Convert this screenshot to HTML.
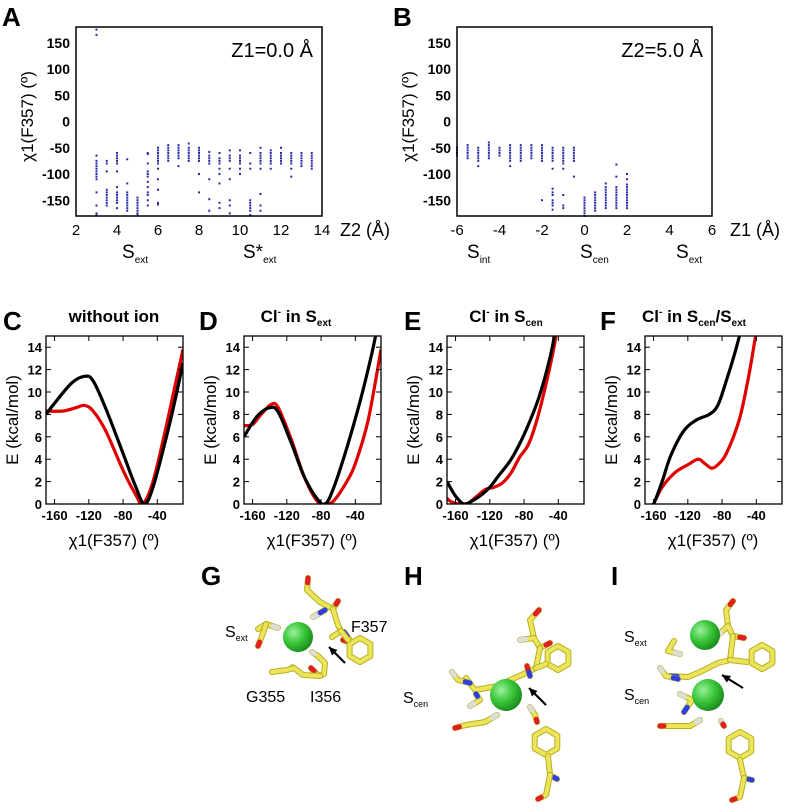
<!DOCTYPE html>
<html><head><meta charset="utf-8"><style>
html,body{margin:0;padding:0;background:#fff;}
svg{display:block;font-family:"Liberation Sans",Arial,sans-serif;}
</style></head><body>
<svg id="fig" width="785" height="812" viewBox="0 0 785 812" xmlns="http://www.w3.org/2000/svg">
<defs>
<radialGradient id="cl" cx="35%" cy="35%" r="70%"><stop offset="0" stop-color="#9ef09e"/><stop offset="0.5" stop-color="#3cc83c"/><stop offset="1" stop-color="#1a8a1a"/></radialGradient>
</defs>
<g font-weight="bold" font-size="26">
<text x="2" y="26">A</text>
<text x="393" y="26">B</text>
<text x="3" y="330">C</text>
<text x="199" y="330">D</text>
<text x="404" y="330">E</text>
<text x="600" y="330">F</text>
<text x="201" y="585">G</text>
<text x="404" y="585">H</text>
<text x="611" y="585">I</text>
</g>
<g font-weight="bold" font-size="17" text-anchor="middle">
<text x="114" y="322">without ion</text>
<text x="296" y="322">Cl<tspan font-size="10" dy="-7">-</tspan><tspan dy="7"> in S</tspan><tspan font-size="10" dy="4">ext</tspan></text>
<text x="506" y="322">Cl<tspan font-size="10" dy="-7">-</tspan><tspan dy="7"> in S</tspan><tspan font-size="10" dy="4">cen</tspan></text>
<text x="694" y="322">Cl<tspan font-size="10" dy="-7">-</tspan><tspan dy="7"> in S</tspan><tspan font-size="10" dy="4">cen</tspan><tspan dy="-4">/S</tspan><tspan font-size="10" dy="4">ext</tspan></text>
</g>
<g id="plots"></g>
<g id="mol"></g>
</svg>
<script>
// ---------- Panel A data ----------
const zA = [3,3.5,4,4.5,5,5.5,6,6.5,7,7.5,8,8.5,9,9.5,10,10.5,11,11.5,12,12.5,13,13.5];
const chiA = [
 [175,165,-65,-75,-80,-85,-90,-95,-100,-105,-110,-135,-160,-175,-178],
 [-75,-80,-95,-130,-135,-140,-145,-150,-155,-160],
 [-60,-65,-70,-75,-80,-95,-125,-135,-140,-145,-150,-155,-165],
 [-72,-118,-135,-140,-145,-150,-155,-160,-165,-170],
 [-145,-150,-155,-160,-165,-170,-175,-178],
 [-60,-62,-80,-95,-100,-105,-115,-125,-135,-140,-150,-160],
 [-50,-55,-60,-65,-70,-75,-80,-90,-110,-130,-155,-158],
 [-45,-50,-55,-60,-65,-70,-75],
 [-45,-50,-55,-60,-65,-70,-85],
 [-42,-50,-55,-60,-65,-70,-75],
 [-50,-55,-60,-65,-70,-75,-100,-135],
 [-58,-65,-70,-75,-80,-110,-148,-170],
 [-60,-70,-75,-80,-90,-100,-118,-155,-165],
 [-55,-65,-70,-75,-90,-110,-150,-160,-175],
 [-55,-65,-70,-75,-80,-90,-100],
 [-60,-80,-90,-150,-155,-160,-165,-170,-178],
 [-50,-60,-65,-70,-75,-80,-90,-138,-160,-170],
 [-55,-60,-65,-70,-75,-80,-90],
 [-50,-60,-65,-70,-75,-80],
 [-60,-65,-70,-75,-80,-90,-105],
 [-60,-65,-70,-75,-80,-85],
 [-60,-65,-70,-75,-80,-85,-90]
];
// ---------- Panel B data ----------
const zB = [-6,-5.5,-5,-4.5,-4,-3.5,-3,-2.5,-2,-1.5,-1,-0.5,0,0.5,1,1.5,2];
const chiB = [
 [-50,-55,-60,-65],
 [-45,-50,-55,-60,-65,-70],
 [-50,-55,-60,-65,-70,-75,-85],
 [-40,-45,-50,-55,-60,-65,-70],
 [-50,-55,-60,-65],
 [-45,-50,-55,-60,-65,-70,-75,-85],
 [-45,-50,-55,-60,-65,-70,-75],
 [-45,-50,-55,-60,-65,-70],
 [-45,-50,-55,-60,-65,-70,-75,-150],
 [-50,-55,-60,-65,-70,-75,-90,-128,-135,-140,-150,-155,-160,-168],
 [-50,-55,-60,-65,-70,-75,-80,-90,-140,-160,-165],
 [-50,-55,-60,-65,-70,-75,-105],
 [-145,-150,-155,-160,-165,-170,-175,-180],
 [-135,-140,-145,-150,-155,-160,-165,-170],
 [-118,-125,-130,-135,-140,-145,-150,-155,-160,-165],
 [-82,-105,-125,-130,-135,-140,-145,-150,-155,-160,-165],
 [-100,-110,-120,-125,-130,-135,-140,-145,-150,-155,-160,-165]
];
const ticksYAB = [150,100,50,0,-50,-100,-150];
const ticksXA = [2,4,6,8,10,12,14];
const ticksXB = [-6,-4,-2,0,2,4,6];
// ---------- Energy profiles ----------
const angC = [-170,-160,-140,-125,-115,-100,-80,-65,-55,-45,-30,-20,-10];
const blkC = [8,9,10.8,11.4,11,8.5,4.5,1.5,0,1.5,5.8,9,12.6];
const angCr = [-170,-150,-135,-125,-115,-100,-80,-65,-57,-45,-30,-20,-10];
const redC = [8.3,8.3,8.6,8.8,8.3,6.5,3,0.8,0,2,6.8,10.3,13.8];
const angD = [-170,-155,-140,-130,-115,-100,-85,-75,-65,-50,-35,-22,-15];
const blkD = [6,7.8,8.6,8.2,5.5,2.5,0.5,0,1.5,5,9,13,15.5];
const angDr = [-170,-160,-150,-138,-130,-115,-100,-85,-75,-65,-50,-40,-25,-10];
const redD = [7,7.1,8,8.9,8.6,5.8,2.5,0.3,0,0.3,2,3.6,7.5,13.8];
const angE = [-170,-160,-150,-140,-130,-120,-110,-95,-80,-65,-55,-47,-44];
const blkE = [2,0.7,0,0.3,0.8,1.5,2.5,4,6.2,9,11.5,14,15.5];
const angEr = [-170,-165,-155,-145,-135,-125,-115,-105,-95,-85,-75,-65,-55,-45,-42];
const redE = [0.5,0.2,0,0.1,0.7,1.3,1.5,1.9,2.8,4.2,5.3,7.5,10.5,14,15.5];
const angF = [-165,-160,-150,-140,-125,-110,-95,-85,-75,-65,-58];
const blkF = [-0.5,0,2,4.3,6.5,7.5,8,8.8,11,13.5,15.5];
const angFr = [-160,-150,-135,-120,-108,-100,-92,-85,-75,-60,-50,-43,-40];
const redF = [0,1.5,2.8,3.5,4,3.6,3.2,3.5,4.5,7.5,11,14,15.5];
const ticksXE = [-160,-120,-80,-40];
const ticksYE = [0,2,4,6,8,10,12,14];

const NS = "http://www.w3.org/2000/svg";
const plots = document.getElementById('plots');
const defs = document.querySelector('defs');
function el(tag, attrs, parent){
  const e = document.createElementNS(NS, tag);
  for (const k in attrs) e.setAttribute(k, attrs[k]);
  (parent||plots).appendChild(e);
  return e;
}
function txt(x,y,s,attrs,parent){ const t = el('text', Object.assign({x:x,y:y}, attrs), parent); t.textContent = s; return t; }

function scatter(name, L, R, T, B, xmin, xmax, zs, chis, xticks, xlab, ann, subs){
  const g = el('g', {});
  
  
  const sx = v => L + (v - xmin) / (xmax - xmin) * (R - L);
  const sy = v => T + (180 - v) / 360 * (B - T);
  zs.forEach((z, i) => {
    chis[i].forEach(c => {
      const p = el('rect', {x: sx(z) - 1, y: sy(c) - 1, width: 2, height: 2, fill: '#2a2aa8'}, g);
      
      
    });
  });
  const fr = el('rect', {x: L, y: T, width: R - L, height: B - T, fill: 'none', stroke: '#000', 'stroke-width': 1.5}, g);
  
  
  ticksYAB.forEach(v => {
    const t = txt(L - 6, sy(v) + 5, String(v), {'font-size': 14, 'font-weight': 'bold', 'text-anchor': 'end'}, g);
    
    
  });
  xticks.forEach(v => {
    const t = txt(sx(v), B + 19, String(v), {'font-size': 15, 'text-anchor': 'middle'}, g);
    
    
  });
  const xl = txt(R + 18, B + 20, xlab, {'font-size': 18}, g);
  
  
  const yl = txt(0, 0, 'χ1(F357) (º)', {'font-size': 17, 'text-anchor': 'middle', transform: 'translate(' + (L - 43) + ',' + ((T + B) / 2 - 5) + ') rotate(-90)'}, g);
  
  
  const an = txt(R - 9, T + 30, ann, {'font-size': 20, 'text-anchor': 'end'}, g);
  
  
  subs.forEach(s => {
    const t = el('text', {x: s[0], y: B + 42, 'font-size': 19}, g);
    t.innerHTML = s[1] + '<tspan font-size="10" dy="5">' + s[2] + '</tspan>';
    
    
  });
}
scatter('scatter-panel-a', 76, 322, 27, 216, 2, 14, zA, chiA, ticksXA, 'Z2 (Å)', 'Z1=0.0 Å',
  [[122, 'S', 'ext'], [243, 'S*', 'ext']]);
scatter('scatter-panel-b', 457, 712, 27, 216, -6, 6, zB, chiB, ticksXB, 'Z1 (Å)', 'Z2=5.0 Å',
  [[467, 'S', 'int'], [580, 'S', 'cen'], [676, 'S', 'ext']]);

function smoothPath(pts){
  let d = 'M' + pts[0][0].toFixed(1) + ',' + pts[0][1].toFixed(1);
  for (let i = 0; i < pts.length - 1; i++){
    const p0 = pts[Math.max(0, i - 1)], p1 = pts[i], p2 = pts[i + 1], p3 = pts[Math.min(pts.length - 1, i + 2)];
    const c1 = [p1[0] + (p2[0] - p0[0]) / 6, p1[1] + (p2[1] - p0[1]) / 6];
    const c2 = [p2[0] - (p3[0] - p1[0]) / 6, p2[1] - (p3[1] - p1[1]) / 6];
    d += 'C' + c1[0].toFixed(1) + ',' + c1[1].toFixed(1) + ' ' + c2[0].toFixed(1) + ',' + c2[1].toFixed(1) + ' ' + p2[0].toFixed(1) + ',' + p2[1].toFixed(1);
  }
  return d;
}
function energy(name, L, series){
  const R = L + 137, T = 336, B = 504, xmin = -170, xmax = -10;
  const sx = v => L + (v - xmin) / (xmax - xmin) * (R - L);
  const sy = v => B - v / 15 * (B - T);
  const g = el('g', {});
  
  
  const cid = 'clip-' + name;
  const cp = el('clipPath', {id: cid}, defs);
  el('rect', {x: L, y: T, width: R - L, height: B - T}, cp);
  series.forEach(s => {
    const pts = s[0].map((a, i) => [sx(a), sy(s[1][i])]);
    const p = el('path', {d: smoothPath(pts), fill: 'none', stroke: s[2], 'stroke-width': 3.2, 'clip-path': 'url(#' + cid + ')', 'stroke-linejoin': 'round'}, g);
    
    
  });
  const fr = el('rect', {x: L, y: T, width: R - L, height: B - T, fill: 'none', stroke: '#000', 'stroke-width': 1.3}, g);
  
  
  ticksXE.forEach(v => {
    el('line', {x1: sx(v), x2: sx(v), y1: B, y2: B - 5, stroke: '#000', 'stroke-width': 1}, g);
    el('line', {x1: sx(v), x2: sx(v), y1: T, y2: T + 5, stroke: '#000', 'stroke-width': 1}, g);
    const t = txt(sx(v), B + 16, String(v), {'font-size': 13, 'font-weight': 'bold', 'text-anchor': 'middle'}, g);
    
    
  });
  ticksYE.forEach(v => {
    el('line', {x1: L, x2: L + 5, y1: sy(v), y2: sy(v), stroke: '#000', 'stroke-width': 1}, g);
    el('line', {x1: R, x2: R - 5, y1: sy(v), y2: sy(v), stroke: '#000', 'stroke-width': 1}, g);
    const t = txt(L - 4, sy(v) + 5, String(v), {'font-size': 13, 'font-weight': 'bold', 'text-anchor': 'end'}, g);
    
    
  });
  const xl = txt(L + 68, B + 42, 'χ1(F357) (º)', {'font-size': 17, 'text-anchor': 'middle'}, g);
  
  
  const yl = txt(0, 0, 'E (kcal/mol)', {'font-size': 17, 'text-anchor': 'middle', transform: 'translate(' + (L - 28) + ',' + ((T + B) / 2) + ') rotate(-90)'}, g);
  
  
}
energy('energy-panel-c', 46, [[angCr, redC, '#e00000', 'red-curve'], [angC, blkC, '#000', 'black-curve']]);
energy('energy-panel-d', 244, [[angDr, redD, '#e00000', 'red-curve'], [angD, blkD, '#000', 'black-curve']]);
energy('energy-panel-e', 447, [[angEr, redE, '#e00000', 'red-curve'], [angE, blkE, '#000', 'black-curve']]);
energy('energy-panel-f', 645, [[angFr, redF, '#e00000', 'red-curve'], [angF, blkF, '#000', 'black-curve']]);

const mol = document.getElementById('mol');
function stick(pts, g, endA, endB){
  const d = 'M' + pts.map(p => p.join(',')).join('L');
  el('path', {d: d, fill: 'none', stroke: '#b8b020', 'stroke-width': 6, 'stroke-linecap': 'round', 'stroke-linejoin': 'round'}, g);
  el('path', {d: d, fill: 'none', stroke: '#ece45a', 'stroke-width': 4, 'stroke-linecap': 'round', 'stroke-linejoin': 'round'}, g);
  if (endA){ const a = pts[0], b = pts[1]; el('line', {x1: a[0], y1: a[1], x2: a[0] + (b[0] - a[0]) * 0.4, y2: a[1] + (b[1] - a[1]) * 0.4, stroke: endA, 'stroke-width': 5, 'stroke-linecap': 'round'}, g); }
  if (endB){ const a = pts[pts.length - 1], b = pts[pts.length - 2]; el('line', {x1: a[0], y1: a[1], x2: a[0] + (b[0] - a[0]) * 0.4, y2: a[1] + (b[1] - a[1]) * 0.4, stroke: endB, 'stroke-width': 5, 'stroke-linecap': 'round'}, g); }
}
function ring(cx, cy, r, g){
  const pts = [];
  for (let k = 0; k <= 6; k++){ const a = Math.PI / 6 + k * Math.PI / 3; pts.push([(cx + r * Math.cos(a)).toFixed(1), (cy + r * Math.sin(a)).toFixed(1)]); }
  stick(pts, g);
}
function ball(cx, cy, r, g, name){
  const c = el('circle', {cx: cx, cy: cy, r: r, fill: 'url(#cl)'}, g);
  
  
}
function arrow(x1, y1, x2, y2, g){
  el('line', {x1: x1, y1: y1, x2: x2, y2: y2, stroke: '#000', 'stroke-width': 2.2}, g);
  const a = Math.atan2(y2 - y1, x2 - x1), s = 9;
  el('polygon', {points: [x2, y2, x2 - s * Math.cos(a - 0.45), y2 - s * Math.sin(a - 0.45), x2 - s * Math.cos(a + 0.45), y2 - s * Math.sin(a + 0.45)].join(','), fill: '#000'}, g);
}
function label(x, y, s, sub, g, name){
  const t = el('text', {x: x, y: y, 'font-size': 16}, g);
  t.innerHTML = s + (sub ? '<tspan font-size="9" dy="4">' + sub + '</tspan>' : '');
  
  
}
const B_ = '#3040e0', R_ = '#e02020', W_ = '#dddddd';
const gG = el('g', {}, mol);


stick([[308,578],[307,590],[320,602],[333,609],[338,601]], gG, R_, R_);
stick([[313,617],[325,610]], gG, W_, B_);
stick([[333,609],[338,625],[341,631],[332,637]], gG);
stick([[343,640],[352,643],[344,632]], gG, R_, B_);
ring(360, 650, 12, gG);
stick([[341,631],[348,640]], gG);
stick([[312,652],[318,656],[325,663],[324,674],[319,676],[311,668]], gG, W_, R_);
stick([[292,667],[294,668]], gG, W_, B_);
stick([[272,672],[287,670],[294,668],[303,675],[320,676]], gG, null, null);
stick([[258,629],[266,624],[278,628]], gG, null, W_);
stick([[258,646],[262,636],[266,624]], gG, R_);
ball(298, 637, 15, gG, 'chloride-ion-ext');
arrow(345, 663, 329, 647, gG);
label(225, 637, 'S', 'ext', gG, 'site-label-sext');
label(351, 632, 'F357', null, gG, 'residue-label-f357');
label(246, 702, 'G355', null, gG, 'residue-label-g355');
label(310, 702, 'I356', null, gG, 'residue-label-i356');
const gH = el('g', {}, mol);


stick([[539,610],[530,620],[534,638]], gH, R_);
stick([[520,640],[534,638],[540,648],[550,643]], gH, W_, R_);
stick([[540,648],[536,668],[528,672],[508,681],[498,686],[475,690],[466,678]], gH, null, null);
stick([[527,666],[530,676]], gH, R_, B_);
ring(558, 658, 12, gH);
stick([[536,668],[546,664]], gH);
stick([[452,672],[458,680],[470,683]], gH, W_, B_);
stick([[476,694],[480,700],[470,706]], gH, B_, W_);
stick([[455,728],[466,725],[485,722],[497,715]], gH, R_, W_);
stick([[530,707],[535,715],[537,722]], gH, W_, R_);
ring(546, 742, 13, gH);
stick([[548,756],[550,775],[557,779]], gH, null, B_);
stick([[550,775],[546,795],[538,799]], gH, null, R_);
ball(506, 695, 16, gH, 'chloride-ion-cen');
arrow(546, 705, 529, 688, gH);
label(403, 703, 'S', 'cen', gH, 'site-label-scen');
const gI = el('g', {}, mol);


stick([[733,601],[726,610],[728,626]], gI, R_);
stick([[716,637],[728,626],[733,636],[744,638]], gI, W_, R_);
stick([[733,636],[730,660],[718,663],[700,672],[688,677],[670,676]], gI, null, B_);
stick([[674,641],[668,651],[680,654]], gI, null, W_);
ring(762, 657, 12, gI);
stick([[730,660],[747,662]], gI);
stick([[660,668],[666,676],[678,679]], gI, W_, B_);
stick([[680,694],[692,700],[684,712]], gI, W_, B_);
stick([[660,726],[670,726],[690,726],[700,720]], gI, R_, W_);
stick([[721,721],[724,726]], gI, W_, R_);
ring(740, 745, 13, gI);
stick([[740,760],[744,778],[752,780]], gI, null, B_);
stick([[744,778],[740,797],[732,800]], gI, null, R_);
ball(705, 635, 15, gI, 'chloride-ion-ext');
ball(708, 695, 16, gI, 'chloride-ion-cen');
arrow(743, 688, 722, 675, gI);
label(624, 642, 'S', 'ext', gI, 'site-label-sext');
label(624, 700, 'S', 'cen', gI, 'site-label-scen');
</script>
</body></html>
